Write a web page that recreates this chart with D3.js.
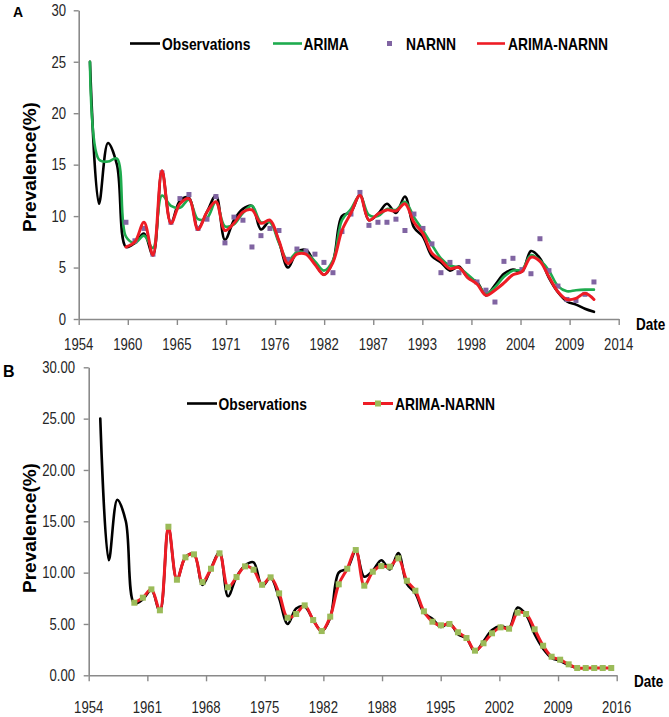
<!DOCTYPE html>
<html><head><meta charset="utf-8">
<script src="https://cdn.jsdelivr.net/npm/d3@7/dist/d3.min.js"></script>
<style>
html,body{margin:0;padding:0;background:#fff;}
svg{display:block;}
</style></head>
<body>
<svg id="chart" width="669" height="717"></svg>
<script>
// ---------------- DATA ----------------
const yearsObs = [1955,1956,1957,1958,1959,1960,1961,1962,1963,1964,1965,1966,1967,1968,1969,1970,1971,1972,1973,1974,1975,1976,1977,1978,1979,1980,1981,1982,1983,1984,1985,1986,1987,1988,1989,1990,1991,1992,1993,1994,1995,1996,1997,1998,1999,2000,2001,2002,2003,2004,2005,2006,2007,2008,2009,2010,2011];
const observations = [25.0,11.2,17.1,15.0,7.0,7.4,8.3,6.2,14.4,9.3,11.5,11.8,8.8,10.4,12.0,7.7,9.6,10.7,11.0,8.7,9.5,7.5,5.0,6.5,6.7,5.4,4.3,5.6,10.0,10.4,12.1,9.6,10.2,11.2,10.3,11.9,8.9,8.0,6.1,5.5,4.7,5.1,4.0,3.6,2.3,3.3,4.4,4.8,4.6,6.6,5.9,4.0,2.6,1.7,1.4,1.0,0.7];
const arima = [25.0,15.5,15.3,15.6,8.0,7.4,8.1,6.9,12.0,11.0,10.8,11.6,9.7,9.8,11.4,9.0,9.2,10.3,11.0,9.4,9.4,7.4,5.7,6.5,6.4,5.6,4.7,5.7,9.6,10.7,12.0,10.1,10.0,10.7,10.6,11.4,9.9,8.6,7.2,5.9,5.2,5.0,4.3,3.5,2.5,3.1,4.1,4.7,4.8,6.2,5.7,4.7,3.2,2.7,2.8,2.85,2.85];
const yearsFit = [1959,1960,1961,1962,1963,1964,1965,1966,1967,1968,1969,1970,1971,1972,1973,1974,1975,1976,1977,1978,1979,1980,1981,1982,1983,1984,1985,1986,1987,1988,1989,1990,1991,1992,1993,1994,1995,1996,1997,1998,1999,2000,2001,2002,2003,2004,2005,2006,2007,2008,2009,2010,2011];
const narnn = [9.4,7.6,8.8,6.3,14.2,9.4,11.7,12.1,8.8,9.7,11.9,7.4,9.9,9.6,7.0,8.1,8.8,8.6,5.8,6.8,6.6,6.3,5.5,4.5,8.5,10.2,12.3,9.1,9.4,9.4,9.7,8.6,10.2,8.8,7.3,4.5,5.5,4.5,5.6,3.6,2.8,1.65,5.6,5.9,4.8,4.4,7.8,4.7,3.2,1.9,1.8,2.4,3.6];
const arimaNarnnA = [7.0,7.5,9.4,6.2,14.4,9.3,11.2,11.7,8.7,10.4,11.4,8.6,9.3,10.4,10.6,9.3,9.6,7.6,5.4,6.3,6.3,5.3,4.3,5.5,8.6,10.3,12.0,9.6,10.2,10.6,10.5,11.2,9.4,8.3,6.4,5.7,4.9,5.0,4.0,3.4,2.3,2.8,3.5,4.3,4.6,6.0,5.6,4.1,2.65,1.9,2.0,2.5,1.9];
const yearsB = [1959,1960,1961,1962,1963,1964,1965,1966,1967,1968,1969,1970,1971,1972,1973,1974,1975,1976,1977,1978,1979,1980,1981,1982,1983,1984,1985,1986,1987,1988,1989,1990,1991,1992,1993,1994,1995,1996,1997,1998,1999,2000,2001,2002,2003,2004,2005,2006,2007,2008,2009,2010,2011,2012,2013,2014,2015];
const arimaNarnnB = [7.07,7.56,8.37,6.33,14.47,9.31,11.49,11.78,9.08,10.38,11.88,8.57,9.57,10.61,10.28,8.82,9.54,7.98,5.61,5.97,6.81,5.38,4.31,5.71,8.86,10.38,12.2,8.73,10.09,10.64,10.58,11.39,9.21,8.24,6.23,5.22,4.87,5.0,4.19,3.63,2.40,3.12,4.09,4.67,4.54,6.10,5.97,4.48,2.88,1.81,1.52,1.07,0.71,0.71,0.71,0.71,0.71];
const xTickLabelsA = ["1954","1960","1965","1971","1976","1982","1987","1993","1998","2004","2009","2014"];
const xTickLabelsB = ["1954","1961","1968","1975","1982","1988","1995","2002","2009","2016"];
const yTicksA = [0,5,10,15,20,25,30];
const yTicksB = [0,5,10,15,20,25,30];

// ---------------- STYLE ----------------
const FONT = "'Liberation Sans', Arial, Helvetica, sans-serif";
const C_OBS = "#000000", C_ARIMA = "#1EAB4E", C_NARNN = "#8064A2", C_HYB = "#EE1C25", C_SQ = "#9BBB59";
const AXIS = "#8a8a8a";
const svg = d3.select("#chart");

function txt(g, s, x, y, o) {
  const t = g.append("text")
    .attr("transform", `translate(${x},${y}) ${o.rot ? "rotate(" + o.rot + ")" : ""} scale(${o.sx || 1},1)`)
    .attr("text-anchor", o.anchor || "start")
    .attr("font-family", FONT)
    .attr("font-size", o.size)
    .attr("font-weight", o.weight || "normal")
    .attr("fill", o.fill || "#000")
    .text(s);
  return t;
}

function panel(cfg) {
  const g = svg.append("g");
  const x = d3.scaleLinear().domain(cfg.xDomain).range([cfg.left, cfg.right]);
  const y = d3.scaleLinear().domain([0, 30]).range([cfg.bottom, cfg.top]);

  const n = cfg.xLabels.length;
  const tickPos = d3.range(n).map(i => cfg.xDomain[0] + i * (cfg.xDomain[1] - cfg.xDomain[0]) / (n - 1));
  const xa = g.append("g").attr("transform", `translate(0,${cfg.bottom})`)
    .call(d3.axisBottom(x).tickValues(tickPos).tickSize(6).tickSizeOuter(0).tickFormat(() => ""));
  const ya = g.append("g").attr("transform", `translate(${cfg.left},0)`)
    .call(d3.axisLeft(y).tickValues(cfg.yTicks).tickSize(5).tickSizeOuter(0).tickFormat(() => ""));
  [xa, ya].forEach(a => {
    a.select(".domain").attr("stroke", AXIS).attr("stroke-width", 1.6);
    a.selectAll(".tick line").attr("stroke", AXIS).attr("stroke-width", 1.4);
  });
  tickPos.forEach((v, i) => txt(g, cfg.xLabels[i], x(v), cfg.xLabelY, {size: 16, sx: 0.82, anchor: "middle", fill: "#262626"}));
  cfg.yTicks.forEach(v => txt(g, cfg.yFmt(v), cfg.yLabelX, y(v) + 5.8, {size: 16, sx: 0.82, anchor: "end", fill: "#262626"}));

  txt(g, "Prevalence(%)", 35.5, cfg.yTitleY, {size: 19, weight: "bold", rot: -90, anchor: "middle"});
  txt(g, "Date", cfg.dateX, cfg.dateY, {size: 16.5, sx: 0.82, weight: "bold"});
  txt(g, cfg.letter, cfg.letterX, cfg.letterY, {size: cfg.letterSize, weight: "bold"});
  return {g, x, y};
}

const smooth = d3.curveCatmullRom.alpha(0.5);
function line(g, x, y, xs, ys, color, w) {
  const pts = xs.map((d, i) => [d, ys[i]]);
  g.append("path").datum(pts)
    .attr("d", d3.line().x(d => x(d[0])).y(d => y(d[1])).curve(smooth))
    .attr("fill", "none").attr("stroke", color).attr("stroke-width", w)
    .attr("stroke-linejoin", "round").attr("stroke-linecap", "round");
}
function squares(g, x, y, xs, ys, color, s) {
  g.selectAll(null).data(xs.map((d, i) => [d, ys[i]])).enter().append("rect")
    .attr("x", d => x(d[0]) - s / 2).attr("y", d => y(d[1]) - s / 2)
    .attr("width", s).attr("height", s).attr("fill", color);
}

// ---------------- PANEL A ----------------
const A = panel({
  xDomain: [1953.75, 2013.75], left: 78.7, right: 618.7, top: 10.3, bottom: 319,
  xLabels: xTickLabelsA, yTicks: yTicksA, yFmt: d => String(d), xLabelY: 350, yLabelX: 66,
  yTitleY: 167, dateX: 636, dateY: 329.5, letter: "A", letterX: 13, letterY: 17, letterSize: 14
});
line(A.g, A.x, A.y, yearsObs, observations, C_OBS, 2.6);
line(A.g, A.x, A.y, yearsObs, arima, C_ARIMA, 2.6);
squares(A.g, A.x, A.y, yearsFit, narnn, C_NARNN, 5);
line(A.g, A.x, A.y, yearsFit, arimaNarnnA, C_HYB, 3);

const LA = A.g.append("g");
const legYA = 43.5;
[[130, 160, C_OBS, 162, "Observations"], [273, 302, C_ARIMA, 303.5, "ARIMA"], [477, 505, C_HYB, 508, "ARIMA-NARNN"]].forEach(d => {
  LA.append("line").attr("x1", d[0]).attr("x2", d[1]).attr("y1", legYA).attr("y2", legYA).attr("stroke", d[2]).attr("stroke-width", 2.6);
  txt(LA, d[4], d[3], legYA + 6, {size: 16.5, sx: 0.84, weight: "bold"});
});
LA.append("rect").attr("x", 387).attr("y", legYA - 2.5).attr("width", 5).attr("height", 5).attr("fill", C_NARNN);
txt(LA, "NARNN", 406, legYA + 6, {size: 16.5, sx: 0.84, weight: "bold"});

// ---------------- PANEL B ----------------
const B = panel({
  xDomain: [1953.64, 2015.64], left: 88.7, right: 616.7, top: 367.3, bottom: 675.3,
  xLabels: xTickLabelsB, yTicks: yTicksB, yFmt: d => d.toFixed(2), xLabelY: 713, yLabelX: 75,
  yTitleY: 528, dateX: 634, dateY: 687, letter: "B", letterX: 3, letterY: 377, letterSize: 16
});
line(B.g, B.x, B.y, yearsObs, observations, C_OBS, 2.6);
line(B.g, B.x, B.y, yearsB, arimaNarnnB, C_HYB, 3);
squares(B.g, B.x, B.y, yearsB, arimaNarnnB, C_SQ, 6);

const LB = B.g.append("g");
const legYB = 403.5;
LB.append("line").attr("x1", 187).attr("x2", 217).attr("y1", legYB).attr("y2", legYB).attr("stroke", C_OBS).attr("stroke-width", 2.6);
txt(LB, "Observations", 218.5, legYB + 6, {size: 16.5, sx: 0.84, weight: "bold"});
LB.append("line").attr("x1", 363).attr("x2", 393).attr("y1", legYB).attr("y2", legYB).attr("stroke", C_HYB).attr("stroke-width", 3);
LB.append("rect").attr("x", 375).attr("y", legYB - 3).attr("width", 6).attr("height", 6).attr("fill", C_SQ);
txt(LB, "ARIMA-NARNN", 395, legYB + 6, {size: 16.5, sx: 0.84, weight: "bold"});
</script>
</body></html>
